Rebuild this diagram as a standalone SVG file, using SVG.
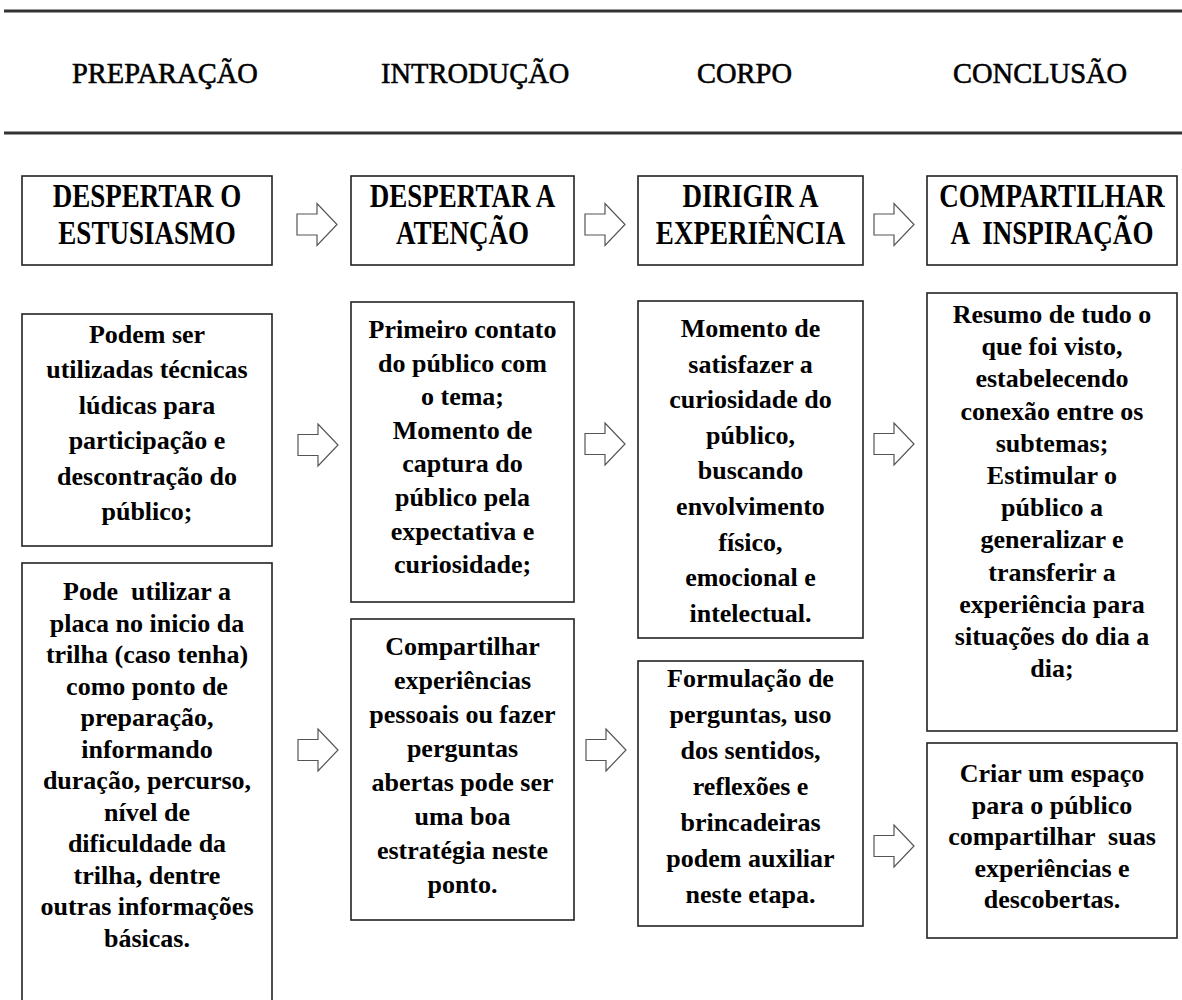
<svg xmlns="http://www.w3.org/2000/svg" xmlns:xlink="http://www.w3.org/1999/xlink" width="1182" height="1000" viewBox="0 0 1182 1000">
<style>
.hdr{font-family:"Liberation Serif","Times New Roman",serif;font-size:30px;fill:#000;stroke:#000;stroke-width:0.6}
.ttl{font-family:"Liberation Serif","Times New Roman",serif;font-weight:bold;font-size:33px;text-anchor:middle;fill:#000}
.txt{font-family:"Liberation Serif","Times New Roman",serif;font-weight:bold;font-size:26px;text-anchor:middle;fill:#000}
.box{fill:#fff;stroke:#222;stroke-width:1.6}
.arr{fill:#fff;stroke:#555;stroke-width:1.2}
.rule{stroke:#333;stroke-width:3}
</style>
<defs>
<path id="arrow" class="arr" d="M0,-10.5 H20 V-21 L40,0 L20,21 V10.5 H0 Z"/>
</defs>
<rect width="1182" height="1000" fill="#fff"/>
<g id="header">
<line class="rule" x1="4" y1="11" x2="1182" y2="11"/>
<line class="rule" x1="4" y1="133" x2="1182" y2="133"/>
<text class="hdr" transform="translate(72 0) scale(0.95 1)" x="0" y="83">PREPARAÇÃO</text>
<text class="hdr" transform="translate(381 0) scale(0.95 1)" x="0" y="83">INTRODUÇÃO</text>
<text class="hdr" transform="translate(697 0) scale(0.95 1)" x="0" y="83">CORPO</text>
<text class="hdr" transform="translate(953 0) scale(0.95 1)" x="0" y="83">CONCLUSÃO</text>
</g>
<g id="connectors">
<use xlink:href="#arrow" x="297" y="224.5"/>
<use xlink:href="#arrow" x="585" y="224.5"/>
<use xlink:href="#arrow" x="874" y="224.5"/>
<use xlink:href="#arrow" x="298" y="445"/>
<use xlink:href="#arrow" x="585" y="444"/>
<use xlink:href="#arrow" x="874" y="444"/>
<use xlink:href="#arrow" x="298" y="750"/>
<use xlink:href="#arrow" x="586" y="750"/>
<use xlink:href="#arrow" x="874" y="846"/>
</g>
<g id="t1">
<rect class="box" x="22" y="176" width="250" height="89"/>
<text class="ttl" transform="translate(147 0) scale(0.82 1)"><tspan x="0" y="207">DESPERTAR O</tspan><tspan x="0" y="244">ESTUSIASMO</tspan></text>
</g>
<g id="t2">
<rect class="box" x="351" y="176" width="223" height="89"/>
<text class="ttl" transform="translate(462.5 0) scale(0.82 1)"><tspan x="0" y="207">DESPERTAR A</tspan><tspan x="0" y="244">ATENÇÃO</tspan></text>
</g>
<g id="t3">
<rect class="box" x="638" y="176" width="225" height="89"/>
<text class="ttl" transform="translate(750.5 0) scale(0.82 1)"><tspan x="0" y="207">DIRIGIR A</tspan><tspan x="0" y="244">EXPERIÊNCIA</tspan></text>
</g>
<g id="t4">
<rect class="box" x="927" y="176" width="250" height="89"/>
<text class="ttl" xml:space="preserve" transform="translate(1052 0) scale(0.82 1)"><tspan x="0" y="207">COMPARTILHAR</tspan><tspan x="0" y="244">A  INSPIRAÇÃO</tspan></text>
</g>
<g id="a1">
<rect class="box" x="22" y="314" width="250" height="232"/>
<text class="txt"><tspan x="147" y="343">Podem ser</tspan><tspan x="147" y="378.4">utilizadas técnicas</tspan><tspan x="147" y="413.8">lúdicas para</tspan><tspan x="147" y="449.2">participação e</tspan><tspan x="147" y="484.6">descontração do</tspan><tspan x="147" y="520">público;</tspan></text>
</g>
<g id="a2">
<rect class="box" x="22" y="563" width="250" height="450"/>
<text class="txt" xml:space="preserve"><tspan x="147" y="600">Pode  utilizar a</tspan><tspan x="147" y="631.5">placa no inicio da</tspan><tspan x="147" y="663">trilha (caso tenha)</tspan><tspan x="147" y="694.5">como ponto de</tspan><tspan x="147" y="726">preparação,</tspan><tspan x="147" y="757.5">informando</tspan><tspan x="147" y="789">duração, percurso,</tspan><tspan x="147" y="820.5">nível de</tspan><tspan x="147" y="852">dificuldade da</tspan><tspan x="147" y="883.5">trilha, dentre</tspan><tspan x="147" y="915">outras informações</tspan><tspan x="147" y="946.5">básicas.</tspan></text>
</g>
<g id="b1">
<rect class="box" x="351" y="302" width="223" height="300"/>
<text class="txt"><tspan x="462.5" y="338">Primeiro contato</tspan><tspan x="462.5" y="371.6">do público com</tspan><tspan x="462.5" y="405.2">o tema;</tspan><tspan x="462.5" y="438.8">Momento de</tspan><tspan x="462.5" y="472.4">captura do</tspan><tspan x="462.5" y="506">público pela</tspan><tspan x="462.5" y="539.6">expectativa e</tspan><tspan x="462.5" y="573.2">curiosidade;</tspan></text>
</g>
<g id="b2">
<rect class="box" x="351" y="619" width="223" height="301"/>
<text class="txt"><tspan x="462.5" y="655">Compartilhar</tspan><tspan x="462.5" y="689">experiências</tspan><tspan x="462.5" y="723">pessoais ou fazer</tspan><tspan x="462.5" y="757">perguntas</tspan><tspan x="462.5" y="791">abertas pode ser</tspan><tspan x="462.5" y="825">uma boa</tspan><tspan x="462.5" y="859">estratégia neste</tspan><tspan x="462.5" y="893">ponto.</tspan></text>
</g>
<g id="c1">
<rect class="box" x="638" y="301" width="225" height="337"/>
<text class="txt"><tspan x="750.5" y="337">Momento de</tspan><tspan x="750.5" y="372.6">satisfazer a</tspan><tspan x="750.5" y="408.2">curiosidade do</tspan><tspan x="750.5" y="443.8">público,</tspan><tspan x="750.5" y="479.4">buscando</tspan><tspan x="750.5" y="515">envolvimento</tspan><tspan x="750.5" y="550.6">físico,</tspan><tspan x="750.5" y="586.2">emocional e</tspan><tspan x="750.5" y="621.8">intelectual.</tspan></text>
</g>
<g id="c2">
<rect class="box" x="638" y="661" width="225" height="265"/>
<text class="txt"><tspan x="750.5" y="687">Formulação de</tspan><tspan x="750.5" y="723">perguntas, uso</tspan><tspan x="750.5" y="759">dos sentidos,</tspan><tspan x="750.5" y="795">reflexões e</tspan><tspan x="750.5" y="831">brincadeiras</tspan><tspan x="750.5" y="867">podem auxiliar</tspan><tspan x="750.5" y="903">neste etapa.</tspan></text>
</g>
<g id="d1">
<rect class="box" x="927" y="293" width="250" height="438"/>
<text class="txt"><tspan x="1052" y="323">Resumo de tudo o</tspan><tspan x="1052" y="355.2">que foi visto,</tspan><tspan x="1052" y="387.4">estabelecendo</tspan><tspan x="1052" y="419.6">conexão entre os</tspan><tspan x="1052" y="451.8">subtemas;</tspan><tspan x="1052" y="484">Estimular o</tspan><tspan x="1052" y="516.2">público a</tspan><tspan x="1052" y="548.4">generalizar e</tspan><tspan x="1052" y="580.6">transferir a</tspan><tspan x="1052" y="612.8">experiência para</tspan><tspan x="1052" y="645">situações do dia a</tspan><tspan x="1052" y="677.2">dia;</tspan></text>
</g>
<g id="d2">
<rect class="box" x="927" y="743" width="250" height="195"/>
<text class="txt" xml:space="preserve"><tspan x="1052" y="782">Criar um espaço</tspan><tspan x="1052" y="813.5">para o público</tspan><tspan x="1052" y="845">compartilhar  suas</tspan><tspan x="1052" y="876.5">experiências e</tspan><tspan x="1052" y="908">descobertas.</tspan></text>
</g>
</svg>
